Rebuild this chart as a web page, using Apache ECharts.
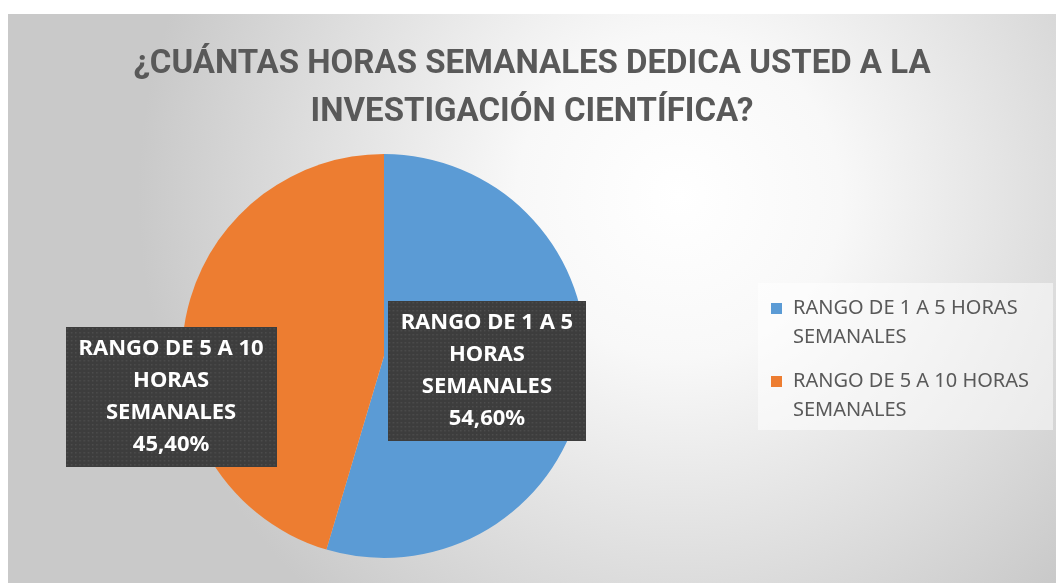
<!DOCTYPE html>
<html lang="es">
<head>
    <meta charset="UTF-8">
    <title>Horas semanales de investigación</title>
    <script src="https://cdn.jsdelivr.net/npm/echarts@6/dist/echarts.min.js"></script>
    <style>
        body {
            margin: 0;
            padding: 0;
            background-color: #ffffff;
        }
        #chart {
            position: absolute;
            left: 8px;
            top: 14px;
            width: 1048px;
            height: 569px;
        }
    </style>
</head>
<body>
    <div id="chart"></div>

    <script>
        var titleLines = ['¿CUÁNTAS HORAS SEMANALES DEDICA USTED A LA', 'INVESTIGACIÓN CIENTÍFICA?'];
        var categories = ['RANGO DE 1 A 5 HORAS SEMANALES', 'RANGO DE 5 A 10 HORAS SEMANALES'];
        var percentages = [54.6, 45.4];
        var colors = ['#5B9BD5', '#ED7D31'];

        // fondo punteado de las etiquetas
        function dotPattern(w, h) {
            var c = document.createElement('canvas');
            c.width = w;
            c.height = h;
            var ctx = c.getContext('2d');
            ctx.fillStyle = '#3d3d3d';
            ctx.fillRect(0, 0, w, h);
            ctx.fillStyle = '#4f4f4f';
            for (var y = 1; y < h; y += 4) {
                for (var x = 1; x < w; x += 4) {
                    ctx.fillRect(x, y, 1.5, 1.5);
                }
            }
            return c;
        }
        var pattern = dotPattern(200, 140);

        var chart = echarts.init(document.getElementById('chart'));

        var pieData = categories.map(function (name, i) {
            return { name: name, value: percentages[i], itemStyle: { color: colors[i] } };
        });

        var option = {
            backgroundColor: {
                type: 'radial',
                x: 0.64,
                y: 0.32,
                r: 0.95,
                colorStops: [
                    { offset: 0, color: '#ffffff' },
                    { offset: 0.3, color: '#f8f8f8' },
                    { offset: 1, color: '#c9c9c9' }
                ]
            },
            title: {
                text: titleLines.join('\n'),
                left: 'center',
                top: 27,
                padding: [0, 0, 0, 42],
                textStyle: {
                    fontFamily: 'Roboto, sans-serif',
                    fontWeight: 'bold',
                    fontSize: 33,
                    lineHeight: 48,
                    color: '#595959'
                }
            },
            graphic: [{
                type: 'rect',
                left: 750,
                top: 269,
                shape: { width: 295, height: 147 },
                style: { fill: 'rgba(255,255,255,0.5)' },
                z: 0
            }],
            legend: {
                orient: 'vertical',
                left: 763,
                top: 251,
                padding: 0,
                itemGap: -14,
                itemWidth: 11,
                itemHeight: 11,
                icon: 'rect',
                data: categories,
                formatter: function (name) {
                    return '\n' + name.replace(' SEMANALES', '\nSEMANALES');
                },
                textStyle: {
                    fontFamily: '"Noto Sans", sans-serif',
                    fontSize: 20,
                    lineHeight: 29,
                    color: '#595959',
                    padding: [0, 0, 0, 6]
                }
            },
            series: [{
                type: 'pie',
                center: [376, 342],
                radius: 202,
                startAngle: 90,
                clockwise: true,
                data: pieData,
                itemStyle: { borderWidth: 0 },
                label: {
                    show: true,
                    position: 'inside',
                    formatter: function (p) {
                        return p.name.replace(' HORAS ', '\nHORAS\n') + '\n' +
                            p.value.toFixed(2).replace('.', ',') + '%';
                    },
                    fontFamily: '"Noto Sans", sans-serif',
                    fontWeight: 'bold',
                    fontSize: 22,
                    lineHeight: 32,
                    color: '#ffffff',
                    align: 'center',
                    backgroundColor: { image: pattern },
                    padding: [9, 13, 3, 13],
                    shadowColor: 'rgba(0,0,0,0.45)',
                    shadowBlur: 5,
                    shadowOffsetX: 3,
                    shadowOffsetY: 3
                },
                labelLine: { show: false },
                labelLayout: function (params) {
                    if (params.dataIndex === 1) {
                        return { dx: -110, dy: 56 };
                    }
                    return {};
                },
                emphasis: { disabled: true }
            }]
        };

        chart.setOption(option);
    </script>
</body>
</html>
